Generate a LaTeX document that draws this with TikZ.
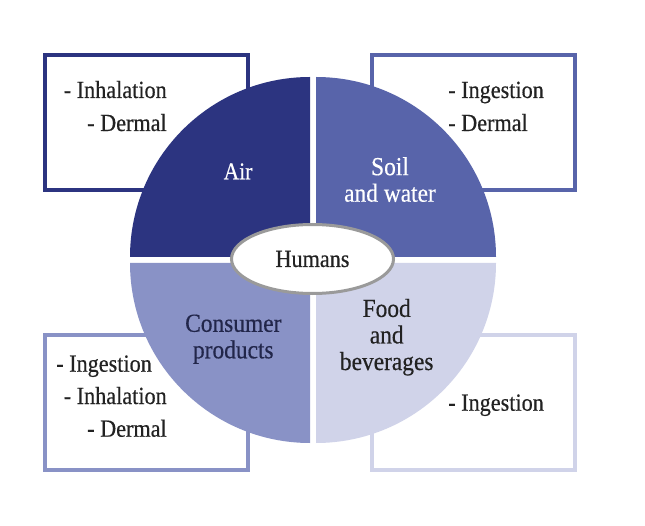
\documentclass[tikz,border=0pt]{standalone}
\usepackage{fontspec}
\setmainfont{Liberation Serif}[FakeStretch=0.9, FakeBold=0.4]
\usepackage{tikz}
\usetikzlibrary{shapes.geometric, positioning}

\definecolor{airblue}{HTML}{2C3480}
\definecolor{soilblue}{HTML}{5864AA}
\definecolor{consumerblue}{HTML}{8992C6}
\definecolor{foodblue}{HTML}{D0D3E9}
\definecolor{inkgray}{HTML}{222222}
\definecolor{inknavy}{HTML}{22264A}
\definecolor{rimgray}{HTML}{9A9A9A}

\begin{document}
\begin{tikzpicture}[
    x=0.75pt, y=0.75pt,
    box/.style={
        rectangle, line width=3pt, fill=white,
        minimum width=152.25pt, minimum height=101.25pt,
        inner sep=0pt
    },
    route/.style={font=\fontsize{18.5}{24}\selectfont, text=inkgray, inner sep=0pt},
    sector/.style={font=\fontsize{19.5}{19.9}\selectfont, align=center, inner sep=0pt},
    hub/.style={
        ellipse, draw=rimgray, line width=2.25pt, fill=white,
        minimum width=121.5pt, minimum height=51.75pt,
        font=\fontsize{18.5}{24}\selectfont, text=inkgray
    },
]
\useasboundingbox (0,0) rectangle (645,525);

% Riquadri delle vie di esposizione
\node[box, draw=airblue]      (airbox)  at (146.5,402.5) {};
\node[box, draw=soilblue]     (soilbox) at (473,402.5)   {};
\node[box, draw=consumerblue] (conbox)  at (146.5,123)   {};
\node[box, draw=foodblue]     (foodbox) at (473,123)     {};

% Quadranti
\coordinate (centre) at (313,265);
\fill[airblue] ([shift={(-3,3)}]centre) -- ++(-180,0)
    arc[start angle=180, end angle=90, radius=180] -- cycle;
\fill[soilblue] ([shift={(3,3)}]centre) -- ++(0,180)
    arc[start angle=90, end angle=0, radius=180] -- cycle;
\fill[consumerblue] ([shift={(-3,-3)}]centre) -- ++(0,-180)
    arc[start angle=270, end angle=180, radius=180] -- cycle;
\fill[foodblue] ([shift={(3,-3)}]centre) -- ++(180,0)
    arc[start angle=0, end angle=-90, radius=180] -- cycle;

% Ellisse centrale
\node[hub] (humans) at (312.5,266) {Humans};

% Etichette dei quadranti (base = ultima riga)
\node[sector, anchor=base, text=white, font=\fontsize{18}{19.9}\selectfont]
    (air) at (238,345.7) {Air};
\node[sector, anchor=base, text=white]   (soil)     at (390,323.3)   {Soil\\and water};
\node[sector, anchor=base, text=inknavy] (consumer) at (233.3,166.7) {Consumer\\products};
\node[sector, anchor=base, text=inkgray] (food)     at (386.7,155)   {Food\\and\\beverages};

% Vie: aria
\node[route, anchor=base east] (airinh) at (167,427) {- Inhalation};
\node[route, anchor=base east] (airder) at (167,394) {- Dermal};

% Vie: suolo e acqua
\node[route, anchor=base west] (soiling) at (448,427) {- Ingestion};
\node[route, anchor=base west] (soilder) at (448,394) {- Dermal};

% Vie: prodotti di consumo
\node[route, anchor=base west] (coning) at (56,153.3)  {- Ingestion};
\node[route, anchor=base east] (coninh) at (167,121)   {- Inhalation};
\node[route, anchor=base east] (conder) at (167,88.3)  {- Dermal};

% Vie: cibo e bevande
\node[route, anchor=base west] (fooding) at (448,114.3) {- Ingestion};
\end{tikzpicture}
\end{document}
